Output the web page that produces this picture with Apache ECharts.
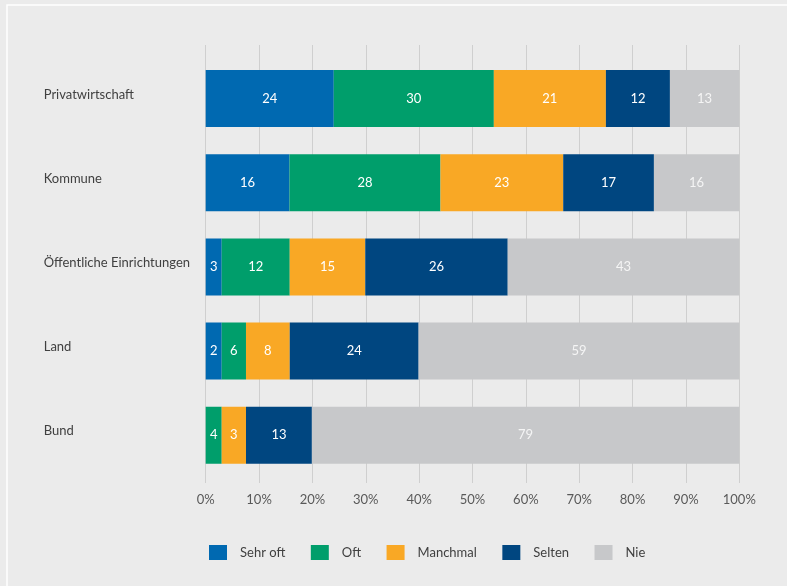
<!DOCTYPE html>
<html>
<head>
<meta charset="utf-8">
<script src="https://cdn.jsdelivr.net/npm/echarts@6/dist/echarts.min.js"></script>
<style>
html,body{margin:0;padding:0;background:#EBEBEB;}
#c{width:787px;height:586px;}
</style>
</head>
<body>
<div id="c"></div>
<script>
var categories = ['Privatwirtschaft', 'Kommune', 'Öffentliche Einrichtungen', 'Land', 'Bund'];
var seriesNames = ['Sehr oft', 'Oft', 'Manchmal', 'Selten', 'Nie'];

// bar widths (percent of total) as drawn
var sehrOft  = [24, 15.7, 3.0, 3.0, 0];
var oft      = [30, 28.3, 12.75, 4.55, 3.0];
var manchmal = [21, 23, 14.15, 8.2, 4.55];
var selten   = [12, 17, 26.7, 24.15, 12.35];
var nie      = [13, 16, 43.4, 60.1, 80.1];

// numbers printed on the bars
var sehrOftLabels  = [24, 16, 3, 2, null];
var oftLabels      = [30, 28, 12, 6, 4];
var manchmalLabels = [21, 23, 15, 8, 3];
var seltenLabels   = [12, 17, 26, 24, 13];
var nieLabels      = [13, 16, 43, 59, 79];

var xTicks = [0, 10, 20, 30, 40, 50, 60, 70, 80, 90, 100];

var colors = ['#0069B1', '#009E6B', '#F9A825', '#004680', '#C7C8CA'];
var values = [sehrOft, oft, manchmal, selten, nie];
var labels = [sehrOftLabels, oftLabels, manchmalLabels, seltenLabels, nieLabels];

var FONT = 'Lato';
var chart = echarts.init(document.getElementById('c'), null, {renderer: 'canvas'});

var series = seriesNames.map(function (name, i) {
  return {
    name: name,
    type: 'bar',
    stack: 'total',
    xAxisIndex: 1,
    yAxisIndex: 1,
    barWidth: 57,
    data: values[i],
    itemStyle: {color: colors[i]},
    emphasis: {disabled: true},
    label: {
      show: true,
      position: 'inside',
      color: i === 4 ? '#F5F5F5' : '#FFFFFF',
      fontFamily: FONT,
      fontSize: 13,
      formatter: function (p) {
        var v = labels[i][p.dataIndex];
        return v == null ? '' : String(v);
      }
    }
  };
});

chart.setOption({
  backgroundColor: '#EBEBEB',
  animation: false,
  color: colors,
  graphic: [{
    type: 'rect',
    shape: {x: 7, y: 5, width: 900, height: 700},
    style: {fill: 'none', stroke: '#FFFFFF', lineWidth: 1.5},
    silent: true
  }],
  legend: {
    left: 204,
    top: 540,
    itemWidth: 18,
    itemHeight: 15,
    itemGap: 25.5,
    icon: 'rect',
    data: seriesNames,
    textStyle: {fontFamily: FONT, fontSize: 13, color: '#404040', padding: [0, 0, 0, 8]}
  },
  grid: [
    {left: 205.7, width: 533.6, top: 45, height: 438},
    {left: 205.7, width: 533.6, top: 56.4, height: 421}
  ],
  xAxis: [
    {
      gridIndex: 0,
      type: 'value',
      min: xTicks[0],
      max: xTicks[xTicks.length - 1],
      interval: xTicks[1] - xTicks[0],
      axisLine: {show: false},
      axisTick: {show: false},
      splitLine: {show: true, lineStyle: {color: '#CFCFCF', width: 1}},
      axisLabel: {
        formatter: '{value}%',
        fontFamily: FONT,
        fontSize: 13,
        color: '#595959',
        margin: 10
      }
    },
    {
      gridIndex: 1,
      type: 'value',
      min: 0,
      max: 100,
      show: false
    }
  ],
  yAxis: [
    {gridIndex: 0, type: 'value', show: false},
    {
      gridIndex: 1,
      type: 'category',
      inverse: true,
      data: categories,
      axisLine: {show: false},
      axisTick: {show: false},
      splitLine: {show: false},
      axisLabel: {
        align: 'left',
        margin: 162,
        formatter: function (v) { return '{c|' + v + '}'; },
        rich: {
          c: {
            fontFamily: FONT,
            fontSize: 13,
            color: '#404040',
            padding: [0, 0, 8, 0]
          }
        }
      }
    }
  ],
  series: series
});
</script>
</body>
</html>
